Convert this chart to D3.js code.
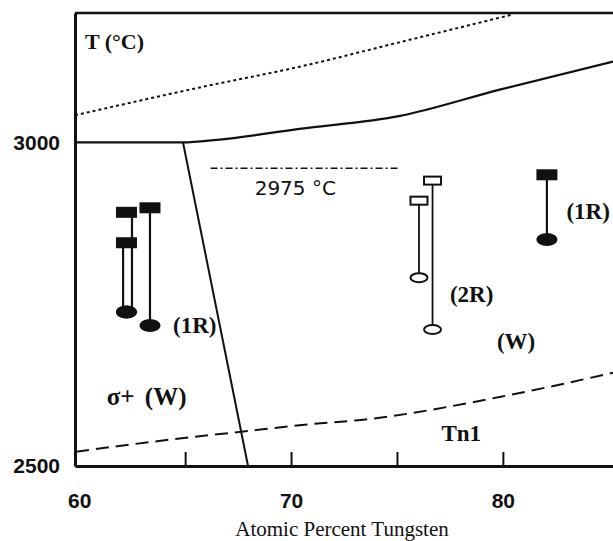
<!DOCTYPE html>
<html lang="en">
<meta charset="utf-8">
<head>
    <script src='https://d3js.org/d3.v7.min.js'></script>
    <style>
        body { margin: 0; background: #fff; }
    </style>
</head>
<body>
<script>
// axis ticks
const xTicks = [60, 65, 70, 75, 80];
const xTickLabels = {60: "60", 70: "70", 80: "80"};
const yTicks = [2500, 3000];

// phase boundaries, [at.% W, T in C]
const upperDotted = [[59.8, 3042], [65.7, 3085], [70.4, 3117], [75.15, 3155], [80.5, 3198]];
const solidTop = [[59.8, 3000], [64.9, 3000], [66.5, 3004], [70.4, 3021], [75.15, 3041], [79.9, 3082], [85.2, 3125]];
const sigmaBoundary = [[64.9, 3000], [67.97, 2500]];
const tn1Dashed = [[59.85, 2522], [63.34, 2537], [67.64, 2553], [70.4, 2563], [73.8, 2573], [79.9, 2607], [85.2, 2644]];
const dashDot = [[66.2, 2960], [75.15, 2960]];

// measurement bars: line x, marker x, top T, bottom T, filled?
const barX = [62.07, 62.49, 63.34, 76.04, 76.68, 82.08];
const barMarkX = [62.23, 62.23, 63.34, 76.04, 76.68, 82.08];
const barTop = [2845, 2892, 2899, 2910, 2941, 2950];
const barBottom = [2738, 2738, 2717, 2791, 2711, 2850];
const barFilled = [true, true, true, false, false, true];

// text labels
const labelText = ["T (°C)", "(1R)", "(2R)", "(W)", "(1R)", "σ+ (W)", "Tn1"];
const labelX = [60.27, 64.43, 77.5, 79.72, 83.0, 61.3, 77.1];
const labelY = [3144, 2706, 2754, 2681, 2881, 2594, 2539];

const width = 613, height = 541;

const svg = d3.select("body").append("svg")
    .attr("width", width)
    .attr("height", height);

const x = d3.scaleLinear().domain([59.8, 85.2]).range([75, 613]);
const y = d3.scaleLinear().domain([2500, 3200]).range([466, 13]);

const line = d3.line()
    .x(function(d) { return x(d[0]); })
    .y(function(d) { return y(d[1]); });
const curve = d3.line()
    .x(function(d) { return x(d[0]); })
    .y(function(d) { return y(d[1]); })
    .curve(d3.curveMonotoneX);

// frame: top border
svg.append("line")
    .attr("x1", x(59.8)).attr("x2", width)
    .attr("y1", y(3200)).attr("y2", y(3200))
    .attr("stroke", "#111").attr("stroke-width", 2.5);

// x axis with inward ticks
const xAxis = svg.append("g")
    .attr("transform", "translate(0," + y(2500) + ")")
    .call(d3.axisBottom(x)
        .tickValues(xTicks)
        .tickSizeInner(-14)
        .tickSizeOuter(0)
        .tickPadding(27)
        .tickFormat(function(d) { return xTickLabels[d] || ""; }));
xAxis.select(".domain").attr("stroke", "#111").attr("stroke-width", 3);
xAxis.selectAll(".tick line").attr("stroke", "#111").attr("stroke-width", 2);
xAxis.selectAll(".tick").filter(function(d) { return d === 60; }).select("line").remove();
xAxis.selectAll("text")
    .attr("font-family", "Liberation Sans, Arial, sans-serif")
    .attr("font-weight", "bold")
    .attr("font-size", 21)
    .attr("fill", "#111");

// y axis
const yAxis = svg.append("g")
    .attr("transform", "translate(" + x(59.8) + ",0)")
    .call(d3.axisLeft(y)
        .tickValues(yTicks)
        .tickSize(0)
        .tickPadding(15)
        .tickFormat(d3.format("d")));
yAxis.select(".domain").attr("stroke", "#111").attr("stroke-width", 3);
yAxis.selectAll("text")
    .attr("font-family", "Liberation Sans, Arial, sans-serif")
    .attr("font-weight", "bold")
    .attr("font-size", 21)
    .attr("fill", "#111");

// boundaries
svg.append("path").datum(upperDotted)
    .attr("d", curve)
    .attr("fill", "none").attr("stroke", "#111")
    .attr("stroke-width", 2).attr("stroke-dasharray", "3,3");

svg.append("path").datum(solidTop)
    .attr("d", curve)
    .attr("fill", "none").attr("stroke", "#111").attr("stroke-width", 2.2);

svg.append("path").datum(sigmaBoundary)
    .attr("d", line)
    .attr("fill", "none").attr("stroke", "#111").attr("stroke-width", 2);

svg.append("path").datum(tn1Dashed)
    .attr("d", curve)
    .attr("fill", "none").attr("stroke", "#111")
    .attr("stroke-width", 2).attr("stroke-dasharray", "13,7");

svg.append("path").datum(dashDot)
    .attr("d", line)
    .attr("fill", "none").attr("stroke", "#111")
    .attr("stroke-width", 1.6).attr("stroke-dasharray", "7,3,2,3");

svg.append("text")
    .attr("x", x(70.2)).attr("y", y(2919))
    .attr("text-anchor", "middle")
    .attr("font-family", "DejaVu Sans, sans-serif")
    .attr("font-size", 20)
    .attr("fill", "#111")
    .text("2975 °C");

// bars
const bars = svg.append("g").selectAll("g")
    .data(barX.map(function(d, i) {
        return {x: d, mx: barMarkX[i], top: barTop[i], bottom: barBottom[i], filled: barFilled[i]};
    }))
    .join("g");

bars.append("line")
    .attr("x1", function(d) { return x(d.x); })
    .attr("x2", function(d) { return x(d.x); })
    .attr("y1", function(d) { return y(d.top); })
    .attr("y2", function(d) { return y(d.bottom); })
    .attr("stroke", "#111")
    .attr("stroke-width", function(d) { return d.filled ? 2.2 : 1.8; });

bars.append("ellipse")
    .attr("cx", function(d) { return x(d.mx); })
    .attr("cy", function(d) { return y(d.bottom); })
    .attr("rx", function(d) { return d.filled ? 9.5 : 8.5; })
    .attr("ry", function(d) { return d.filled ? 5.5 : 4.5; })
    .attr("fill", function(d) { return d.filled ? "#111" : "#fff"; })
    .attr("stroke", "#111").attr("stroke-width", 2);

bars.append("rect")
    .attr("x", function(d) { return x(d.mx) - (d.filled ? 9.5 : 8.5); })
    .attr("y", function(d) { return y(d.top) - (d.filled ? 4.5 : 4); })
    .attr("width", function(d) { return d.filled ? 19 : 17; })
    .attr("height", function(d) { return d.filled ? 9 : 8; })
    .attr("fill", function(d) { return d.filled ? "#111" : "#fff"; })
    .attr("stroke", "#111").attr("stroke-width", 2);

// region labels
svg.append("g").selectAll("text")
    .data(labelText)
    .join("text")
    .attr("x", function(d, i) { return x(labelX[i]); })
    .attr("y", function(d, i) { return y(labelY[i]); })
    .attr("font-family", "Liberation Serif, Times New Roman, serif")
    .attr("font-weight", "bold")
    .attr("font-size", function(d) { return d === "T (°C)" ? 22 : (d === "σ+ (W)" ? 25 : 23); })
    .attr("word-spacing", function(d) { return d === "σ+ (W)" ? 4 : 0; })
    .attr("fill", "#111")
    .text(function(d) { return d; });

// axis title
svg.append("text")
    .attr("x", 342).attr("y", 536)
    .attr("text-anchor", "middle")
    .attr("font-family", "Liberation Serif, Times New Roman, serif")
    .attr("font-size", 21)
    .attr("fill", "#111")
    .text("Atomic Percent Tungsten");
</script>
</body>
</html>
